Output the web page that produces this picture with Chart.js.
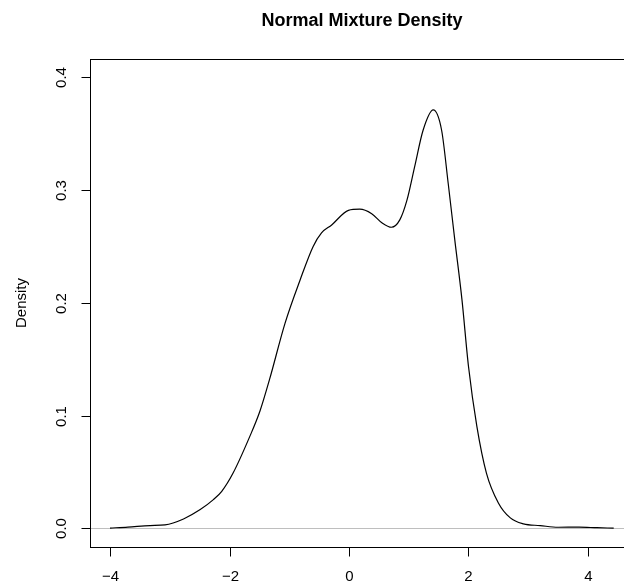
<!DOCTYPE html>
<html>
<head>
<meta charset="utf-8">
<script src="https://cdn.jsdelivr.net/npm/chart.js@4"></script>
<style>
  html, body { margin: 0; padding: 0; background: #fff; overflow: hidden; }
  #wrap { width: 624px; height: 583px; overflow: hidden; }
</style>
</head>
<body>
<div id="wrap"><canvas id="densityChart" width="660" height="583"></canvas></div>
<script>
// density estimate
const xs = [-4.0, -3.7, -3.33, -3.08, -2.77, -2.49, -2.27, -2.13, -1.94, -1.66, -1.49, -1.33,
            -1.07, -0.82, -0.60, -0.46, -0.29, -0.01, 0.18, 0.38, 0.55, 0.71, 0.85, 0.97,
            1.10, 1.24, 1.41, 1.55, 1.66, 1.77, 1.89, 2.00, 2.14, 2.30, 2.50, 2.70, 2.92,
            3.20, 3.50, 3.85, 4.15, 4.43];
const density = [0.0002, 0.0010, 0.0024, 0.0030, 0.0083, 0.0166, 0.0254, 0.0328, 0.049, 0.0815, 0.104, 0.132,
                 0.182, 0.220, 0.250, 0.262, 0.269, 0.282, 0.283, 0.279, 0.271, 0.267, 0.2735, 0.291,
                 0.321, 0.353, 0.371, 0.353, 0.306, 0.256, 0.203, 0.1435, 0.0904, 0.049, 0.0225, 0.0092, 0.0039,
                 0.0024, 0.0009, 0.0010, 0.0005, 0.0001];
const xTicks = [-4, -2, 0, 2, 4];
const yTicks = [0, 0.1, 0.2, 0.3, 0.4];

const points = xs.map((x, i) => ({ x: x, y: density[i] }));

// R style box, ticks, labels
const rAxes = {
    id: 'rAxes',
    beforeDatasetsDraw(chart) {
        const c = chart.ctx, a = chart.chartArea;
        const y0 = Math.round(chart.scales.y.getPixelForValue(0)) + 0.5;
        c.save();
        c.strokeStyle = '#bebebe';
        c.lineWidth = 1;
        c.beginPath();
        c.moveTo(a.left, y0);
        c.lineTo(a.right, y0);
        c.stroke();
        c.restore();
    },
    afterDraw(chart) {
        const c = chart.ctx, a = chart.chartArea;
        const sx = chart.scales.x, sy = chart.scales.y;
        c.save();
        c.strokeStyle = '#000';
        c.lineWidth = 1;
        c.strokeRect(Math.round(a.left) + 0.5, Math.round(a.top) + 0.5,
                     Math.round(a.right - a.left), Math.round(a.bottom - a.top));
        c.fillStyle = '#000';
        c.font = '15px "Liberation Sans", Arial, sans-serif';
        const bot = Math.round(a.bottom) + 0.5;
        c.textAlign = 'center';
        c.textBaseline = 'middle';
        xTicks.forEach(v => {
            const px = Math.round(sx.getPixelForValue(v)) + 0.5;
            c.beginPath();
            c.moveTo(px, bot);
            c.lineTo(px, bot + 9);
            c.stroke();
            c.fillText(v < 0 ? '\u2212' + Math.abs(v) : String(v), px, 577);
        });
        const left = Math.round(a.left) + 0.5;
        yTicks.forEach(v => {
            const py = Math.round(sy.getPixelForValue(v)) + 0.5;
            c.beginPath();
            c.moveTo(left, py);
            c.lineTo(left - 9, py);
            c.stroke();
            c.save();
            c.translate(62, py);
            c.rotate(-Math.PI / 2);
            c.fillText(v.toFixed(1), 0, 0);
            c.restore();
        });
        c.save();
        c.translate(22, (a.top + a.bottom) / 2);
        c.rotate(-Math.PI / 2);
        c.fillText('Density', 0, 0);
        c.restore();
        c.font = 'bold 18px "Liberation Sans", Arial, sans-serif';
        c.fillText('Normal Mixture Density', (a.left + a.right) / 2, 21);
        c.restore();
    }
};

new Chart(document.getElementById('densityChart').getContext('2d'), {
    type: 'line',
    data: {
        datasets: [{
            label: 'Density',
            data: points,
            borderColor: '#000',
            borderWidth: 1.2,
            pointRadius: 0,
            fill: false,
            cubicInterpolationMode: 'monotone'
        }]
    },
    options: {
        responsive: false,
        animation: false,
        layout: { padding: { left: 90, top: 59, right: 26, bottom: 36 } },
        plugins: { legend: { display: false }, tooltip: { enabled: false } },
        scales: {
            x: { type: 'linear', display: false, min: -4.335, max: 4.77 },
            y: { type: 'linear', display: false, min: -0.0166, max: 0.4162 }
        }
    },
    plugins: [rAxes]
});
</script>
</body>
</html>
